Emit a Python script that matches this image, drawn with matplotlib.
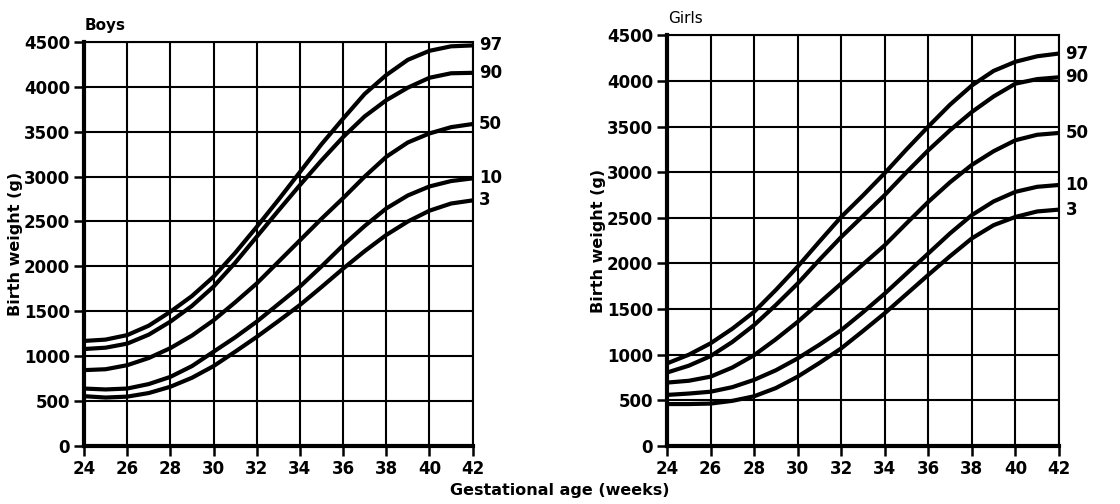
import numpy as np
import matplotlib
matplotlib.use("Agg")
import matplotlib.pyplot as plt

# Gestational age (weeks)
weeks = list(range(24, 43))
percentiles = ["97", "90", "50", "10", "3"]

# Boys birth weight percentiles (g)
boys_97 = [1170, 1185, 1235, 1340, 1495, 1670, 1885, 2150, 2440, 2740, 3050, 3360, 3645, 3920, 4130, 4300, 4400, 4450, 4460]
boys_90 = [1080, 1095, 1140, 1240, 1385, 1560, 1775, 2040, 2330, 2620, 2905, 3180, 3440, 3670, 3850, 3990, 4100, 4150, 4155]
boys_50 = [845, 855, 900, 980, 1090, 1230, 1400, 1600, 1810, 2050, 2290, 2530, 2760, 3000, 3220, 3380, 3480, 3550, 3585]
boys_10 = [640, 630, 640, 690, 770, 890, 1050, 1210, 1385, 1580, 1775, 2000, 2235, 2450, 2645, 2790, 2890, 2950, 2980]
boys_3 = [555, 540, 550, 590, 660, 760, 890, 1050, 1215, 1390, 1570, 1770, 1975, 2170, 2350, 2500, 2620, 2700, 2735]

# Girls birth weight percentiles (g)
girls_97 = [905, 1000, 1125, 1285, 1470, 1710, 1965, 2240, 2510, 2745, 2990, 3250, 3500, 3740, 3950, 4110, 4210, 4270, 4300]
girls_90 = [805, 880, 985, 1140, 1325, 1545, 1780, 2040, 2290, 2520, 2750, 3000, 3240, 3460, 3660, 3830, 3970, 4020, 4040]
girls_50 = [695, 715, 760, 860, 995, 1170, 1360, 1570, 1780, 1990, 2200, 2440, 2675, 2890, 3080, 3230, 3350, 3410, 3430]
girls_10 = [560, 575, 595, 645, 725, 830, 960, 1110, 1270, 1465, 1670, 1890, 2110, 2330, 2530, 2680, 2785, 2840, 2860]
girls_3 = [460, 460, 465, 495, 545, 635, 760, 910, 1070, 1260, 1455, 1665, 1875, 2080, 2275, 2420, 2510, 2570, 2590]

x_ticks = list(range(24, 43, 2))
y_ticks = list(range(0, 4501, 500))

plt.rcParams['font.family'] = ['DejaVu Sans']
plt.rcParams['font.weight'] = 'bold'


def draw_panel(ax, curves, title, title_weight, title_y):
    ax.set_xlim(24, 42)
    ax.set_ylim(0, 4500)
    ax.set_xticks(x_ticks)
    ax.set_yticks(y_ticks)
    ax.grid(True, color='black', linewidth=1.5)
    ax.set_axisbelow(True)
    for side in ['top', 'right']:
        ax.spines[side].set_linewidth(1.5)
    for side in ['left', 'bottom']:
        ax.spines[side].set_linewidth(3.0)
    ax.tick_params(direction='out', length=7, width=1.8, labelsize=12, pad=3)
    for lab in ax.get_xticklabels() + ax.get_yticklabels():
        lab.set_fontweight('bold')

    for vals, p in zip(curves, percentiles):
        ax.plot(weeks, vals, color='black', linewidth=3.0, solid_capstyle='butt')
        ax.text(42.3, vals[-1], p, va='center', ha='left', fontsize=12,
                fontweight='bold', clip_on=False)

    ax.set_ylabel('Birth weight (g)', fontsize=11.5, fontweight='bold', labelpad=1)
    ax.text(24.05, title_y, title, fontsize=11, fontweight=title_weight,
            ha='left', va='bottom')


fig = plt.figure(figsize=(11.2, 5.04), dpi=100)
ax1 = fig.add_axes([0.075, 0.115, 0.347, 0.802])
ax2 = fig.add_axes([0.5955, 0.115, 0.35, 0.815])

draw_panel(ax1, [boys_97, boys_90, boys_50, boys_10, boys_3], 'Boys', 'bold', 4600)
draw_panel(ax2, [girls_97, girls_90, girls_50, girls_10, girls_3], 'Girls', 'normal', 4600)

fig.text(0.5, 0.012, 'Gestational age (weeks)', ha='center', va='bottom',
         fontsize=11.5, fontweight='bold')

fig.savefig('out.png', dpi=100, facecolor='white')
